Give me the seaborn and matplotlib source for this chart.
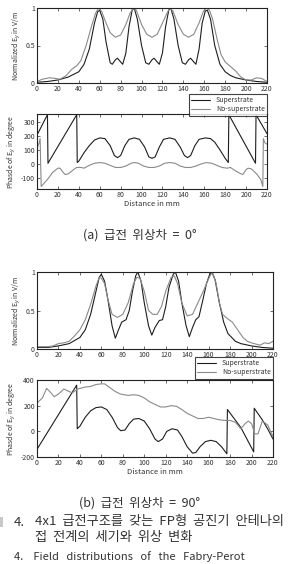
import numpy as np
import pandas as pd
import seaborn as sns
import matplotlib.pyplot as plt
from matplotlib.patches import Rectangle

# ---- (a) feed phase 0 deg : magnitude ----
a_mag_sup_x = [0, 10, 20, 30, 40, 45, 50, 55, 58, 60, 63, 66, 70, 72, 75, 77, 80, 82, 85, 88, 91, 93, 96,
               100, 104, 107, 110, 112, 115, 117, 120, 123, 126, 128, 131, 135, 139, 142, 145, 147, 150,
               152, 155, 158, 161, 163, 166, 170, 175, 180, 185, 190, 200, 210, 220]
a_mag_sup_y = [0.01, 0.02, 0.04, 0.08, 0.15, 0.25, 0.45, 0.8, 0.95, 0.97, 0.85, 0.55, 0.27, 0.25, 0.31, 0.33,
               0.28, 0.25, 0.4, 0.75, 0.97, 1.0, 0.85, 0.5, 0.27, 0.25, 0.31, 0.33, 0.28, 0.25, 0.4, 0.75,
               0.97, 1.0, 0.85, 0.5, 0.27, 0.25, 0.31, 0.33, 0.28, 0.25, 0.45, 0.8, 0.96, 0.97, 0.85, 0.5,
               0.25, 0.15, 0.1, 0.07, 0.04, 0.02, 0.01]
a_mag_no_x = [0, 5, 12, 18, 22, 28, 33, 38, 42, 47, 52, 56, 59, 62, 66, 70, 75, 80, 85, 89, 92, 95, 100,
              105, 110, 115, 120, 125, 127, 130, 135, 140, 145, 150, 155, 159, 162, 165, 168, 172, 176,
              180, 185, 190, 195, 200, 205, 210, 215, 220]
a_mag_no_y = [0.02, 0.05, 0.07, 0.06, 0.05, 0.1, 0.18, 0.23, 0.3, 0.5, 0.75, 0.93, 1.0, 0.95, 0.8, 0.67,
              0.61, 0.64, 0.78, 0.93, 1.0, 0.97, 0.78, 0.65, 0.61, 0.65, 0.8, 0.95, 1.0, 0.96, 0.78, 0.65,
              0.61, 0.65, 0.8, 0.95, 1.0, 0.97, 0.85, 0.6, 0.38, 0.28, 0.22, 0.16, 0.08, 0.04, 0.04, 0.07,
              0.06, 0.02]

# ---- (a) phase ----
a_ph_sup_x = [0, 10, 10.5, 38, 38.5, 40, 45, 50, 55, 60, 65, 70, 74, 77, 80, 84, 88, 93, 98, 103, 107, 110,
              113, 117, 121, 127, 132, 137, 141, 144, 147, 151, 155, 161, 166, 170, 175, 180, 183, 183.5,
              209, 209.5, 220]
a_ph_sup_y = [205, 350, 5, 350, 10, 20, 80, 130, 170, 185, 180, 130, 60, 45, 60, 130, 175, 185, 175, 120,
              50, 40, 50, 120, 175, 185, 175, 120, 60, 45, 60, 130, 175, 185, 180, 155, 100, 40, 10, 350,
              5, 350, 215]
a_ph_no_x = [0, 2, 3, 4, 10, 15, 20, 22, 25, 27, 30, 35, 38, 42, 45, 50, 55, 60, 65, 70, 75, 80, 85, 90,
             93, 97, 102, 107, 112, 117, 122, 127, 132, 137, 142, 147, 152, 157, 162, 167, 172, 177, 182,
             185, 190, 195, 197, 200, 202, 205, 210, 214, 216, 216.5, 218, 220]
a_ph_no_y = [110, 150, 180, -160, -110, -60, -30, -30, -60, -75, -70, -40, -25, -25, -30, -10, 5, 10, 5,
             -10, -25, -25, -15, 5, 10, 5, -15, -25, -25, -15, 5, 10, 5, -15, -25, -25, -15, 0, 10, 5,
             -10, -25, -30, -25, -50, -70, -75, -40, -30, -35, -70, -110, -160, 180, 150, 140]

# ---- (b) feed phase 90 deg : magnitude ----
b_mag_sup_x = [0, 10, 20, 30, 40, 45, 50, 55, 58, 60, 63, 66, 70, 73, 76, 79, 83, 86, 89, 92, 94, 97, 100,
               104, 107, 110, 114, 117, 120, 123, 127, 129, 132, 135, 139, 142, 145, 148, 151, 154, 158,
               161, 163, 166, 170, 174, 178, 185, 190, 200, 210, 220]
b_mag_sup_y = [0.02, 0.02, 0.04, 0.07, 0.15, 0.25, 0.45, 0.75, 0.93, 0.97, 0.88, 0.65, 0.3, 0.14, 0.25,
               0.35, 0.38, 0.5, 0.75, 0.95, 1.0, 0.88, 0.6, 0.3, 0.18, 0.28, 0.37, 0.38, 0.55, 0.8, 0.97,
               1.0, 0.88, 0.6, 0.3, 0.16, 0.28, 0.38, 0.42, 0.6, 0.85, 0.97, 1.0, 0.9, 0.6, 0.35, 0.2, 0.1,
               0.07, 0.04, 0.02, 0.01]
b_mag_no_x = [0, 10, 15, 20, 25, 30, 35, 40, 45, 50, 55, 58, 60, 63, 66, 70, 75, 80, 85, 90, 93, 96, 100,
              104, 108, 112, 116, 120, 125, 128, 131, 135, 140, 145, 150, 155, 159, 162, 164, 167, 170,
              173, 177, 182, 187, 192, 196, 200, 205, 208, 212, 216, 220]
b_mag_no_y = [0.03, 0.03, 0.04, 0.07, 0.08, 0.1, 0.17, 0.25, 0.38, 0.58, 0.82, 0.93, 0.92, 0.85, 0.65,
              0.45, 0.41, 0.45, 0.6, 0.85, 0.93, 0.92, 0.75, 0.5, 0.45, 0.45, 0.55, 0.75, 0.93, 0.95, 0.85,
              0.6, 0.43, 0.45, 0.6, 0.75, 0.88, 0.97, 0.98, 0.85, 0.6, 0.45, 0.4, 0.35, 0.25, 0.15, 0.1,
              0.08, 0.06, 0.05, 0.08, 0.07, 0.1]

# ---- (b) phase ----
b_ph_sup_x = [0, 37, 37.5, 40, 45, 50, 55, 60, 65, 70, 75, 78, 82, 86, 90, 95, 100, 105, 110, 113, 117,
              121, 126, 131, 135, 140, 145, 148, 152, 157, 162, 167, 172, 177, 177.5, 190, 202, 202.5,
              210, 215, 220]
b_ph_sup_y = [-140, 360, 20, 40, 110, 160, 185, 190, 170, 110, 30, 5, 10, 60, 95, 100, 80, 20, -60, -80,
              -60, 0, 20, 10, -40, -120, -170, -165, -120, -80, -70, -80, -120, -175, 170, 30, -160, 180,
              90, 20, -60]
b_ph_no_x = [0, 5, 9, 13, 16, 20, 25, 30, 33, 38, 45, 50, 55, 60, 63, 68, 73, 78, 85, 90, 95, 100, 105,
             110, 115, 120, 125, 130, 135, 140, 145, 150, 155, 160, 165, 170, 175, 180, 185, 190, 194,
             197, 200, 203, 206, 210, 215, 220]
b_ph_no_y = [220, 260, 335, 300, 270, 290, 330, 310, 300, 330, 345, 350, 365, 370, 370, 340, 310, 290,
             280, 285, 280, 260, 230, 210, 190, 190, 200, 195, 170, 140, 120, 100, 100, 110, 100, 90, 85,
             85, 70, 20, 60, 80, 60, -20, -20, 80, 50, -40]

labels = ["Superstrate", "No-superstrate"]
xticks = list(range(0, 221, 20))

sns.set_style("ticks")
plt.rcParams['font.family'] = ['Noto Sans CJK KR', 'DejaVu Sans']
plt.rcParams['axes.unicode_minus'] = False

fig = plt.figure(figsize=(2.92, 5.64), dpi=100)
W, H = 292.0, 564.0


def box(l, t, r, b):
    return [l / W, 1 - b / H, (r - l) / W, (b - t) / H]


C_SUP = "#1e1e1e"
C_NO = "#8a8a8a"
TXT = "#333333"


def panel(rect, xs1, ys1, xs2, ys2, ylim, yticks, ylabel, xlabel=None):
    ax = fig.add_axes(rect)
    sns.lineplot(x=xs1, y=ys1, ax=ax, color=C_SUP, lw=0.8, sort=False, estimator=None)
    sns.lineplot(x=xs2, y=ys2, ax=ax, color=C_NO, lw=0.8, sort=False, estimator=None)
    ax.set_xlim(0, 220)
    ax.set_ylim(*ylim)
    ax.set_xticks(xticks)
    ax.set_yticks(yticks)
    ax.tick_params(direction="in", top=True, right=True, length=2, width=0.5,
                   labelsize=5, pad=1.5, colors=TXT)
    for s in ax.spines.values():
        s.set_linewidth(0.8)
        s.set_color("#222222")
    ax.set_ylabel(ylabel, fontsize=5, labelpad=2, color=TXT)
    ax.set_xlabel(xlabel if xlabel else "", fontsize=5.5, labelpad=1, color=TXT)
    return ax


ax1 = panel(box(37, 8, 267, 83), a_mag_sup_x, a_mag_sup_y, a_mag_no_x, a_mag_no_y,
            (0, 1), [0, 0.5, 1], "Normalized E$_y$ in V/m")
ax1.set_yticklabels(["0", "0.5", "1"])
ax2 = panel(box(37, 114, 267, 189), a_ph_sup_x, a_ph_sup_y, a_ph_no_x, a_ph_no_y,
            (-178, 355), [-100, 0, 100, 200, 300], "Phasde of E$_y$ in degree", "Distance in mm")
ax3 = panel(box(37, 272, 273, 349), b_mag_sup_x, b_mag_sup_y, b_mag_no_x, b_mag_no_y,
            (0, 1), [0, 0.5, 1], "Normalized E$_y$ in V/m")
ax3.set_yticklabels(["0", "0.5", "1"])
ax4 = panel(box(37, 380, 273, 457), b_ph_sup_x, b_ph_sup_y, b_ph_no_x, b_ph_no_y,
            (-200, 400), [-200, 0, 200, 400], "Phasde of E$_y$ in degree", "Distance in mm")

for ax, (r, t) in [(ax1, (267, 94)), (ax3, (273, 357))]:
    handles = ax.get_lines()[:2]
    leg = fig.legend(handles, labels, loc="upper right",
                     bbox_to_anchor=(r / W, 1 - t / H), fontsize=5, frameon=True,
                     fancybox=False, borderpad=0.3, handlelength=2.8, labelspacing=0.2,
                     handletextpad=0.8, borderaxespad=0)
    leg.get_frame().set_edgecolor("#111111")
    leg.get_frame().set_linewidth(0.8)
    for t_ in leg.get_texts():
        t_.set_color(TXT)

fig.text(140 / W, 1 - 235 / H, "(a)  급전  위상차  =  0°", ha="center", va="center",
         fontsize=9, color=TXT)
fig.text(140 / W, 1 - 503 / H, "(b)  급전  위상차  =  90°", ha="center", va="center",
         fontsize=9, color=TXT)
# cut-off edge of the page on the left
fig.patches.append(Rectangle((0, 1 - 527 / H), 3 / W, 10 / H, transform=fig.transFigure,
                             color="#c8c8c8", lw=0))
fig.text(14 / W, 1 - 522 / H, "4.", ha="left", va="center", fontsize=9.5, color=TXT)
fig.text(35 / W, 1 - 522 / H, "4x1  급전구조를  갖는  FP형  공진기  안테나의", ha="left",
         va="center", fontsize=9.5, color=TXT)
fig.text(35 / W, 1 - 537 / H, "접  전계의  세기와  위상  변화", ha="left", va="center",
         fontsize=9.5, color=TXT)
fig.text(14 / W, 1 - 557 / H, "4.    Field   distributions   of   the   Fabry-Perot",
         ha="left", va="center", fontsize=8, color=TXT)

fig.savefig("out.png", dpi=100)
